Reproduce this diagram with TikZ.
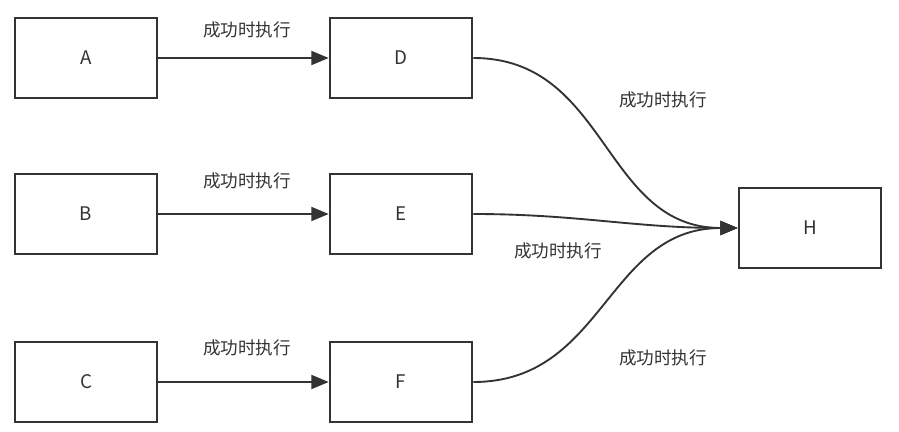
\documentclass[tikz,border=0pt]{standalone}
\usepackage{fontspec}
\setmainfont{Noto Sans CJK SC}
\definecolor{boxline}{RGB}{51,51,51}
\usetikzlibrary{arrows.meta}

\begin{document}
\begin{tikzpicture}[
  x=0.03cm,y=-0.03cm,
  every node/.style={font=\fontsize{16}{18}\selectfont,text=boxline},
  job/.style={draw=boxline,line width=2pt,minimum width=4.27cm,minimum height=2.41cm},
  go/.style={draw=boxline,line width=1.6pt,-{Triangle[length=0.52cm,width=0.42cm]}},
  tag/.style={font=\fontsize{15}{17}\selectfont}
]
\useasboundingbox (0,0) rectangle (899,432);
% jobs
\node[job] (A) at (86,58) {A};
\node[job] (B) at (86,214) {B};
\node[job] (C) at (86,382) {C};
\node[job] (D) at (401,58) {D};
\node[job] (E) at (401,214) {E};
\node[job] (F) at (401,382) {F};
\node[job] (H) at (810,228) {H};
% links
\draw[go] (A) -- (D);
\draw[go] (B) -- (E);
\draw[go] (C) -- (F);
\draw[go] (D.east) to[out=0,in=180,looseness=1.1] (H.west);
\draw[go] (E.east) to[out=0,in=180] (H.west);
\draw[go] (F.east) to[out=0,in=180,looseness=1.1] (H.west);
% labels
\node[tag] (la) at (247,30) {成功时执行};
\node[tag] (lb) at (247,181) {成功时执行};
\node[tag] (lc) at (247,348) {成功时执行};
\node[tag] (ld) at (663,100) {成功时执行};
\node[tag] (le) at (558,251) {成功时执行};
\node[tag] (lf) at (663,358) {成功时执行};
\end{tikzpicture}
\end{document}
